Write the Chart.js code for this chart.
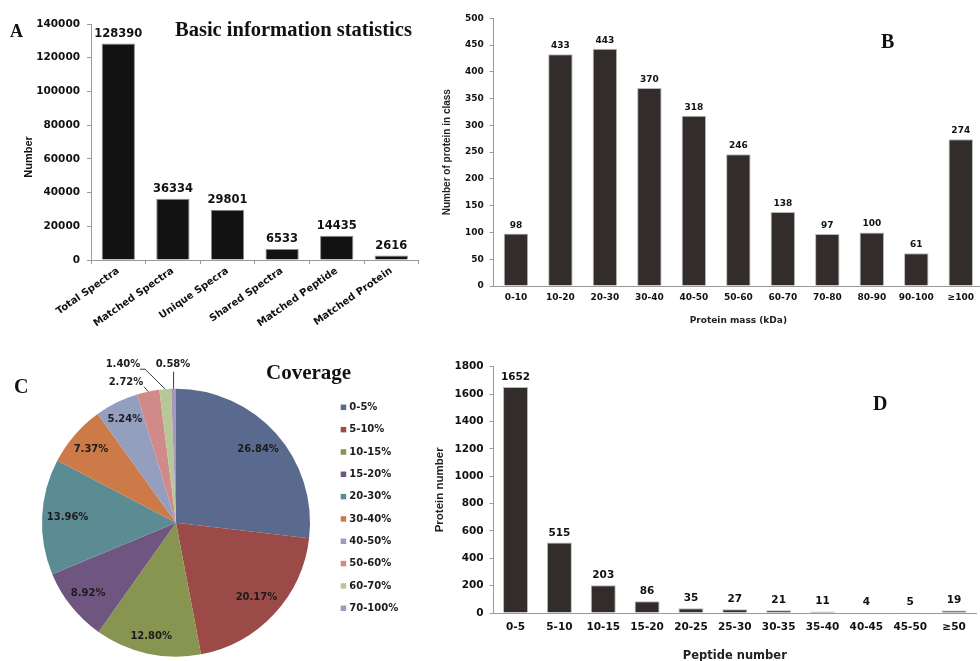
<!DOCTYPE html>
<html>
<head>
<meta charset="utf-8">
<script src="https://cdn.jsdelivr.net/npm/chart.js@4.4.1/dist/chart.umd.min.js"></script>
<style>
  html, body { margin: 0; padding: 0; background: #fff; }
  body { width: 980px; height: 661px; overflow: hidden; position: relative; }
  canvas { position: absolute; display: block; }
  #panelA { left: 0; top: 0; }
  #panelB { left: 430px; top: 0; }
  #panelC { left: 0; top: 330px; }
  #panelD { left: 430px; top: 330px; }
</style>
</head>
<body>
<canvas id="panelA" width="430" height="330"></canvas>
<canvas id="panelB" width="560" height="330"></canvas>
<canvas id="panelC" width="430" height="331"></canvas>
<canvas id="panelD" width="560" height="331"></canvas>
<script>
// ---- data ----
const statCategories = ['Total Spectra', 'Matched Spectra', 'Unique Specra', 'Shared Spectra', 'Matched Peptide', 'Matched Protein'];
const statValues = [128390, 36334, 29801, 6533, 14435, 2616];

const massClasses = ['0-10', '10-20', '20-30', '30-40', '40-50', '50-60', '60-70', '70-80', '80-90', '90-100', '\u2265100'];
const massCounts = [98, 433, 443, 370, 318, 246, 138, 97, 100, 61, 274];

const coverageRanges = ['0-5%', '5-10%', '10-15%', '15-20%', '20-30%', '30-40%', '40-50%', '50-60%', '60-70%', '70-100%'];
const coverageShares = [26.84, 20.17, 12.80, 8.92, 13.96, 7.37, 5.24, 2.72, 1.40, 0.58];

const peptideBins = ['0-5', '5-10', '10-15', '15-20', '20-25', '25-30', '30-35', '35-40', '40-45', '45-50', '\u226550'];
const peptideCounts = [1652, 515, 203, 86, 35, 27, 21, 11, 4, 5, 19];

// ---- shared styling ----
Chart.defaults.font.family = '"DejaVu Sans", "Liberation Sans", sans-serif';
Chart.defaults.color = '#151515';
const axisGray = '#9a9a9a';
const sliceColors = ['#5a6a8e', '#9b4a47', '#879550', '#6f5680', '#5b8b93', '#cc7b48', '#949fbf', '#d08a8a', '#b5c895', '#a797bf'];

const fixedWidth = w => s => { s.width = w; };
const fixedHeight = h => s => { s.height = h; };

// value written above each bar
function barValues(font, gap) {
  return {
    id: 'barValues',
    afterDatasetsDraw(chart) {
      const ctx = chart.ctx;
      const values = chart.data.datasets[0].data;
      ctx.save();
      ctx.font = font;
      ctx.fillStyle = '#111';
      ctx.textAlign = 'center';
      ctx.textBaseline = 'alphabetic';
      chart.getDatasetMeta(0).data.forEach((bar, i) => {
        ctx.fillText(String(values[i]), bar.x, bar.y - gap);
      });
      ctx.restore();
    }
  };
}

// free text: panel letters, headings, rotated axis caption
function freeText(items) {
  return {
    id: 'freeText',
    afterDraw(chart) {
      const ctx = chart.ctx;
      items.forEach(t => {
        ctx.save();
        ctx.font = t.font;
        ctx.fillStyle = t.color || '#111';
        ctx.textAlign = t.align || 'left';
        ctx.textBaseline = t.baseline || 'alphabetic';
        ctx.translate(t.x, t.y);
        if (t.rotate) ctx.rotate(t.rotate);
        ctx.fillText(t.text, 0, 0);
        ctx.restore();
      });
    }
  };
}

// percentage labels on the pie, with leader lines for the thin slices
function sliceLabels(font, insideRatios, outside) {
  return {
    id: 'sliceLabels',
    afterDatasetsDraw(chart) {
      const ctx = chart.ctx;
      const values = chart.data.datasets[0].data;
      ctx.save();
      ctx.font = font;
      ctx.fillStyle = '#1c1c1c';
      ctx.strokeStyle = '#3a3a3a';
      ctx.lineWidth = 1;
      ctx.textAlign = 'center';
      ctx.textBaseline = 'middle';
      chart.getDatasetMeta(0).data.forEach((arc, i) => {
        const mid = (arc.startAngle + arc.endAngle) / 2;
        const r = arc.outerRadius;
        const text = values[i].toFixed(2) + '%';
        const out = outside[i];
        if (out) {
          const ex = arc.x + Math.cos(mid) * r;
          const ey = arc.y + Math.sin(mid) * r;
          ctx.beginPath();
          out.via.forEach((p, k) => {
            const px = arc.x + p[0], py = arc.y + p[1];
            if (k === 0) ctx.moveTo(px, py); else ctx.lineTo(px, py);
          });
          ctx.lineTo(ex, ey);
          ctx.stroke();
          ctx.fillText(text, arc.x + out.dx, arc.y + out.dy);
        } else {
          const k = insideRatios[i];
          ctx.fillText(text, arc.x + Math.cos(mid) * r * k, arc.y + Math.sin(mid) * r * k);
        }
      });
      ctx.restore();
    }
  };
}

// vertical legend beside the pie
function sideLegend(cfg) {
  return {
    id: 'sideLegend',
    afterDraw(chart) {
      const ctx = chart.ctx;
      const ds = chart.data.datasets[0];
      ctx.save();
      ctx.font = cfg.font;
      ctx.textAlign = 'left';
      ctx.textBaseline = 'middle';
      chart.data.labels.forEach((label, i) => {
        const cy = cfg.y + i * cfg.step;
        ctx.fillStyle = ds.backgroundColor[i];
        ctx.fillRect(cfg.x, cy - cfg.box / 2, cfg.box, cfg.box);
        ctx.fillStyle = '#1c1c1c';
        ctx.fillText(label, cfg.textX, cy);
      });
      ctx.restore();
    }
  };
}

const quiet = { legend: { display: false }, tooltip: { enabled: false } };

// ---- A: basic information statistics ----
new Chart(document.getElementById('panelA'), {
  type: 'bar',
  data: {
    labels: statCategories,
    datasets: [{ data: statValues, backgroundColor: '#121212', borderColor: '#8c8c8c', borderWidth: 1,
      categoryPercentage: 1, barPercentage: 0.61 }]
  },
  options: {
    responsive: false, animation: false, events: [],
    layout: { padding: { top: 24, right: 11.4, bottom: 0, left: 0 } },
    plugins: quiet,
    scales: {
      x: {
        grid: { drawOnChartArea: false, tickLength: 4, color: axisGray },
        border: { color: axisGray },
        ticks: { autoSkip: false, maxRotation: 35, minRotation: 35, padding: 1, color: '#111',
          font: { size: 10, weight: 'bold' } },
        afterFit: fixedHeight(70)
      },
      y: {
        min: 0, max: 140000,
        grid: { drawOnChartArea: false, tickLength: 4, color: axisGray },
        border: { color: axisGray },
        ticks: { stepSize: 20000, padding: 7, color: '#111', font: { size: 10.5, weight: 'bold' },
          callback: v => String(v) },
        afterFit: fixedWidth(91)
      }
    }
  },
  plugins: [
    barValues('bold 11.5px "DejaVu Sans"', 6.5),
    freeText([
      { text: 'A', x: 10, y: 37, font: 'bold 18px "Liberation Serif"' },
      { text: 'Basic information statistics', x: 175, y: 36, font: 'bold 20.5px "Liberation Serif"' },
      { text: 'Number', x: 32, y: 157, align: 'center', rotate: -Math.PI / 2, font: 'bold 11px "Liberation Sans"' }
    ])
  ]
});

// ---- B: protein mass distribution ----
new Chart(document.getElementById('panelB'), {
  type: 'bar',
  data: {
    labels: massClasses,
    datasets: [{ data: massCounts, backgroundColor: '#322c2a', borderColor: '#b8b8b8', borderWidth: 1,
      categoryPercentage: 1, barPercentage: 0.55 }]
  },
  options: {
    responsive: false, animation: false, events: [],
    layout: { padding: { top: 18.3, right: 7, bottom: 4, left: 0 } },
    plugins: quiet,
    scales: {
      x: {
        grid: { drawOnChartArea: false, drawTicks: false, color: axisGray },
        border: { color: axisGray },
        ticks: { autoSkip: false, maxRotation: 0, padding: 6, color: '#111', font: { size: 9, weight: 'bold' } },
        title: { display: true, text: 'Protein mass (kDa)', color: '#222', padding: { top: 0, bottom: 0 },
          font: { size: 9, weight: 'bold' } },
        afterFit: fixedHeight(40)
      },
      y: {
        min: 0, max: 500,
        grid: { drawOnChartArea: false, tickLength: 4, color: axisGray },
        border: { color: axisGray },
        ticks: { stepSize: 50, padding: 6, color: '#111', font: { size: 9, weight: 'bold' } },
        title: { display: true, text: 'Number of protein in class', color: '#222', padding: { top: 11, bottom: 0 },
          font: { family: '"Liberation Sans", sans-serif', size: 10, weight: 'bold' } },
        afterFit: fixedWidth(63.7)
      }
    }
  },
  plugins: [
    barValues('bold 9px "DejaVu Sans"', 6),
    freeText([{ text: 'B', x: 451, y: 48, font: 'bold 20px "Liberation Serif"' }])
  ]
});

// ---- C: coverage ----
new Chart(document.getElementById('panelC'), {
  type: 'pie',
  data: {
    labels: coverageRanges,
    datasets: [{ data: coverageShares, backgroundColor: sliceColors, borderWidth: 0 }]
  },
  options: {
    responsive: false, animation: false, events: [],
    layout: { padding: { top: 58.7, right: 120, bottom: 4.3, left: 42 } },
    plugins: quiet
  },
  plugins: [
    sliceLabels('bold 10px "DejaVu Sans"', [0.82, 0.82, 0.87, 0.84, 0.81, 0.84, 0.86], {
      7: { dx: -50, dy: -140, via: [[-32, -136]] },
      8: { dx: -53, dy: -158, via: [[-36, -153.5], [-31, -153.5]] },
      9: { dx: -3, dy: -158, via: [[-2.4, -151]] }
    }),
    sideLegend({ x: 340.7, y: 77.3, step: 22.33, box: 5.5, textX: 349.3, font: 'bold 10px "DejaVu Sans"' }),
    freeText([
      { text: 'C', x: 14, y: 63, font: 'bold 20px "Liberation Serif"' },
      { text: 'Coverage', x: 266, y: 49, font: 'bold 21px "Liberation Serif"' }
    ])
  ]
});

// ---- D: peptide number distribution ----
new Chart(document.getElementById('panelD'), {
  type: 'bar',
  data: {
    labels: peptideBins,
    datasets: [{ data: peptideCounts, backgroundColor: '#322c2a', borderColor: '#b8b8b8', borderWidth: 1,
      categoryPercentage: 1, barPercentage: 0.57 }]
  },
  options: {
    responsive: false, animation: false, events: [],
    layout: { padding: { top: 36.7, right: 14, bottom: 0, left: 0 } },
    plugins: quiet,
    scales: {
      x: {
        grid: { drawOnChartArea: false, drawTicks: false, color: axisGray },
        border: { color: axisGray },
        ticks: { autoSkip: false, maxRotation: 0, padding: 8, color: '#111', font: { size: 10.5, weight: 'bold' } },
        title: { display: true, text: 'Peptide number', color: '#222', padding: { top: 0, bottom: -2 },
          font: { size: 11.5, weight: 'bold' } },
        afterFit: fixedHeight(48)
      },
      y: {
        min: 0, max: 1800,
        grid: { drawOnChartArea: false, tickLength: 4, color: axisGray },
        border: { color: axisGray },
        ticks: { stepSize: 200, padding: 6, color: '#111', font: { size: 10.5, weight: 'bold' },
          callback: v => String(v) },
        title: { display: true, text: 'Protein number', color: '#222', padding: { top: 3, bottom: 0 },
          font: { family: '"Liberation Sans", sans-serif', size: 11.5, weight: 'bold' } },
        afterFit: fixedWidth(63.6)
      }
    }
  },
  plugins: [
    barValues('bold 10.5px "DejaVu Sans"', 7),
    freeText([{ text: 'D', x: 443, y: 80, font: 'bold 20px "Liberation Serif"' }])
  ]
});
</script>
</body>
</html>
